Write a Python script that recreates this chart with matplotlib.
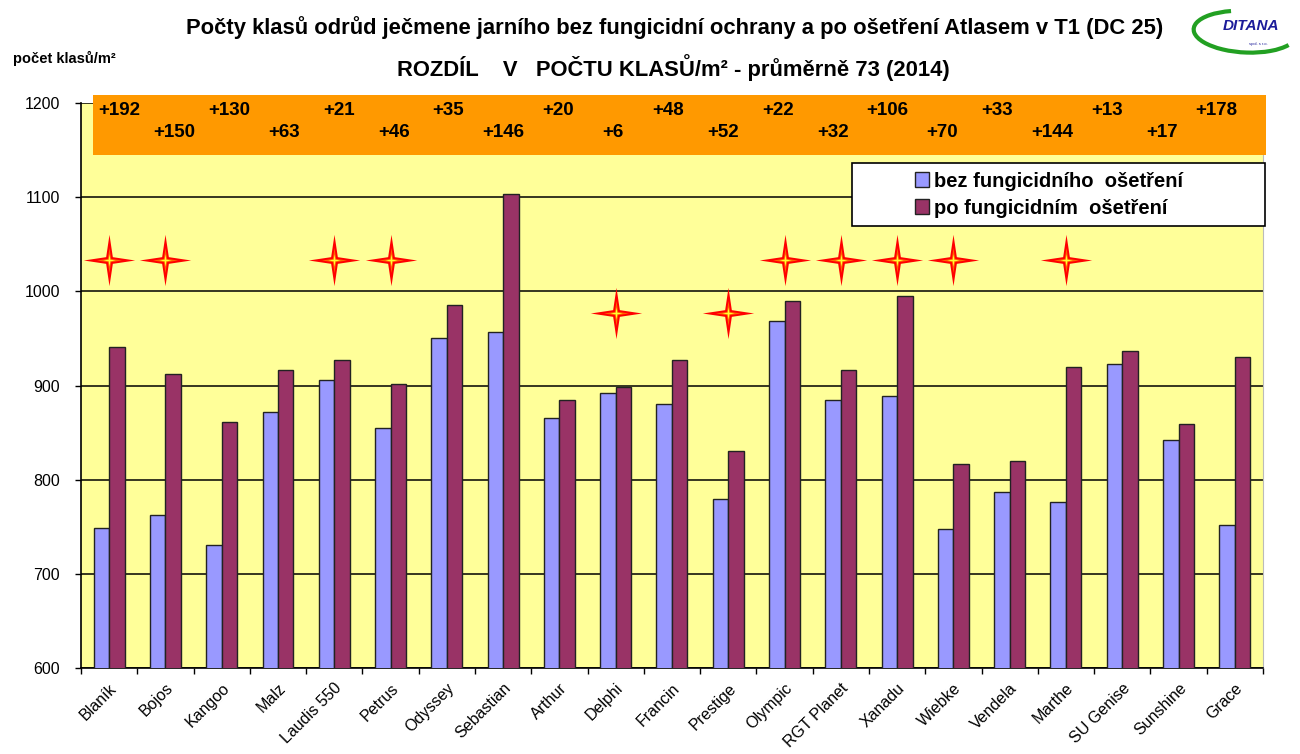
import numpy as np
import matplotlib
matplotlib.use('Agg')
import matplotlib.pyplot as plt
from matplotlib.patches import Rectangle, Arc
from matplotlib.path import Path

plt.rcParams['font.family'] = ['Liberation Sans', 'DejaVu Sans']

#------------------------------- data -------------------------------
varieties = ['Blaník', 'Bojos', 'Kangoo', 'Malz', 'Laudis 550', 'Petrus', 'Odyssey',
             'Sebastian', 'Arthur', 'Delphi', 'Francin', 'Prestige', 'Olympic',
             'RGT Planet', 'Xanadu', 'Wiebke', 'Vendela', 'Marthe', 'SU Genise',
             'Sunshine', 'Grace']
bez = [749, 762, 731, 872, 906, 855, 950, 957, 866, 892, 880, 779, 968, 885, 889,
       748, 787, 776, 923, 842, 752]
po = [941, 912, 861, 917, 927, 902, 985, 1103, 885, 898, 927, 831, 990, 917, 995,
      817, 820, 920, 937, 859, 930]
rozdil = ['+192', '+150', '+130', '+63', '+21', '+46', '+35', '+146', '+20', '+6', '+48',
          '+52', '+22', '+32', '+106', '+70', '+33', '+144', '+13', '+17', '+178']
stars_high = ['Blaník', 'Bojos', 'Laudis 550', 'Petrus', 'Olympic', 'RGT Planet',
              'Xanadu', 'Wiebke', 'Marthe']
stars_low = ['Delphi', 'Prestige']

#------------------------------- figure -------------------------------
fig = plt.figure(figsize=(13, 7.54), dpi=100)
ax = fig.add_axes([0.0623, 0.114, 0.9092, 0.7494])
ax.set_facecolor('#FFFF99')

x = np.arange(len(varieties))
w = 0.275
ax.bar(x - w/2, bez, w, color='#9999FF', edgecolor='#222222', linewidth=1,
       label='bez fungicidního  ošetření', zorder=3)
ax.bar(x + w/2, po, w, color='#993366', edgecolor='#222222', linewidth=1,
       label='po fungicidním  ošetření', zorder=3)

ax.set_xlim(-0.5, len(varieties) - 0.5)
ax.set_ylim(600, 1200)
ax.set_yticks(range(600, 1201, 100))
ax.yaxis.grid(True, color='black', linewidth=1.1, zorder=1)
ax.set_axisbelow(True)

ax.set_xticks(x)
ax.set_xticklabels(varieties, rotation=45, ha='right', va='top',
                   rotation_mode='anchor', fontsize=11.5)
ax.set_xticks(np.arange(-0.5, len(varieties)), minor=True)
ax.tick_params(axis='x', which='major', length=0, pad=9)
ax.tick_params(axis='x', which='minor', length=4.5, width=1, direction='out')
ax.tick_params(axis='y', length=4.5, width=1, labelsize=11.5, pad=10.5)

ax.spines['top'].set_visible(False)
ax.spines['right'].set_color('#bbbbbb')
ax.spines['left'].set_linewidth(1.2)
ax.spines['bottom'].set_linewidth(1.2)

#------------------- orange band with differences -------------------
ax.add_patch(Rectangle((0.0102, 0.908), 0.9923, 0.106, transform=ax.transAxes,
                       facecolor='#FF9900', edgecolor='none', clip_on=False, zorder=4))
# typed text boxes in the original drift slightly left across the band
for i, lab in enumerate(rozdil):
    yy = 1192 if i % 2 == 0 else 1169
    ax.text(i + 0.18 - 0.025 * i, yy, lab, ha='center', va='center', fontsize=13.5,
            fontweight='bold', zorder=5, clip_on=False)

#------------------- stars -------------------
star = Path([(0, 1), (0.13, 0.13), (1, 0), (0.13, -0.13), (0, -1), (-0.13, -0.13),
             (-1, 0), (-0.13, 0.13), (0, 1)],
            [Path.MOVETO] + [Path.LINETO] * 7 + [Path.CLOSEPOLY])
for names, yy in [(stars_high, 1033), (stars_low, 977)]:
    xs = [varieties.index(n) for n in names]
    ax.plot(xs, [yy] * len(xs), linestyle='none', marker=star, markersize=37,
            color='#FF0000', markeredgewidth=0, zorder=6)
    ax.plot(xs, [yy] * len(xs), linestyle='none', marker=star, markersize=18,
            color='#FF6600', markeredgewidth=0, zorder=6)
    ax.plot(xs, [yy] * len(xs), linestyle='none', marker=star, markersize=9,
            color='#FFFF33', markeredgewidth=0, zorder=7)

#------------------- legend -------------------
ax.add_patch(Rectangle((0.652, 0.782), 0.35, 0.112, transform=ax.transAxes,
                       facecolor='white', edgecolor='black', linewidth=1.2,
                       clip_on=False, zorder=8))
leg = ax.legend(loc='center left', bbox_to_anchor=(0.69, 0.838), frameon=False,
                prop={'weight': 'bold', 'size': 14.5}, handlelength=0.7,
                handleheight=0.7, handletextpad=0.25, labelspacing=0.4)
leg.set_zorder(9)

#------------------- titles -------------------
fig.text(0.519, 0.964, 'Počty klasů odrůd ječmene jarního bez fungicidní ochrany a po ošetření Atlasem v T1 (DC 25)',
         ha='center', va='center', fontsize=15.8, fontweight='bold')
fig.text(0.518, 0.910, 'ROZDÍL    V   POČTU KLASŮ/m² - průměrně 73 (2014)',
         ha='center', va='center', fontsize=15.8, fontweight='bold')
fig.text(0.01, 0.923, 'počet klasů/m²', ha='left', va='center', fontsize=10.5,
         fontweight='bold')

# logo
fig.add_artist(Arc((0.958, 0.958), 0.08, 0.055, angle=-8, theta1=120, theta2=340,
                   transform=fig.transFigure, color='#22A022', linewidth=3))
fig.text(0.962, 0.966, 'DITANA', ha='center', va='center', fontsize=11,
         fontweight='bold', style='italic', color='#1C1C9A')
fig.text(0.968, 0.942, 'spol. s r.o.', ha='center', va='center', fontsize=3,
         color='#1C1C9A')

fig.savefig('out.png', dpi=100)
